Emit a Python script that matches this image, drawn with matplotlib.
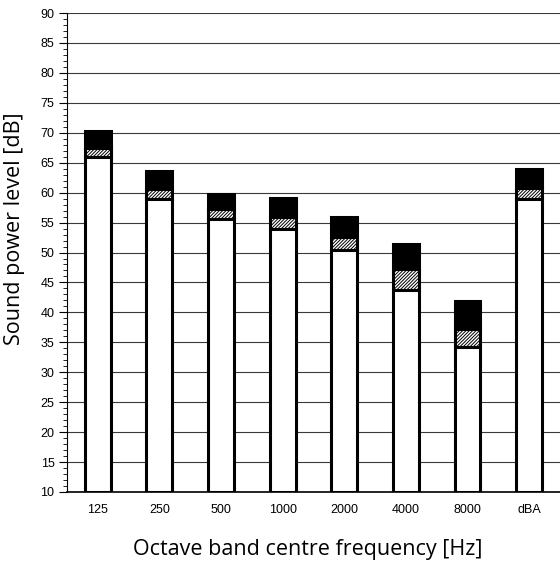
import matplotlib
matplotlib.use("Agg")
import matplotlib.pyplot as plt
from matplotlib.ticker import MultipleLocator
import numpy as np

# --- Data (dB) ---
bands = ["125", "250", "500", "1000", "2000", "4000", "8000", "dBA"]
base_level = [66.0, 59.0, 55.6, 54.0, 50.4, 43.8, 34.3, 59.0]
mid_level = [67.5, 60.6, 57.2, 56.0, 52.6, 47.2, 37.2, 60.8]
top_level = [70.3, 63.6, 59.7, 59.1, 55.9, 51.4, 41.9, 64.0]
floor = 10

plt.rcParams["hatch.linewidth"] = 0.7

fig = plt.figure(figsize=(5.6, 5.67), dpi=100)
ax = fig.add_axes([0.1196, 0.1323, 0.8804, 0.8447])

x = np.arange(len(bands))
w = 0.42
edge = dict(edgecolor="black", linewidth=2.2)

base = np.array(base_level)
mid = np.array(mid_level)
top = np.array(top_level)

# stacked: white base, hatched middle, black cap
ax.bar(x, top - mid, w, bottom=mid, color="black", zorder=3, **edge)
ax.bar(x, mid - base, w, bottom=base, color="white", hatch="/" * 10, zorder=3, **edge)
ax.bar(x, base - floor, w, bottom=floor, color="white", zorder=3, **edge)

ax.set_xlim(-0.5, len(bands) - 0.5)
ax.set_ylim(10, 90)
ax.set_xticks(x)
ax.set_xticklabels(bands, fontsize=9, family="Liberation Sans")
ax.tick_params(axis="x", length=0, pad=9)

ax.yaxis.set_major_locator(MultipleLocator(5))
ax.yaxis.set_minor_locator(MultipleLocator(1))
ax.tick_params(axis="y", which="major", length=6, width=0.8, labelsize=9, pad=3)
ax.tick_params(axis="y", which="minor", length=3, width=0.6)
for t in ax.get_yticklabels():
    t.set_family("Liberation Sans")

ax.yaxis.grid(True, color="#3a3a3a", linewidth=0.8, zorder=0)
ax.set_axisbelow(True)

for s in ["top", "right"]:
    ax.spines[s].set_visible(False)
ax.spines["left"].set_linewidth(0.8)
ax.spines["bottom"].set_linewidth(1.2)

ax.set_ylabel("Sound power level [dB]", fontsize=15.5, family="Open Sans")
ax.yaxis.set_label_coords(-0.085, 0.549)
ax.set_xlabel("Octave band centre frequency [Hz]", fontsize=15.5, family="Open Sans")
ax.xaxis.set_label_coords(0.489, -0.098)

fig.savefig("out.png", dpi=100)
